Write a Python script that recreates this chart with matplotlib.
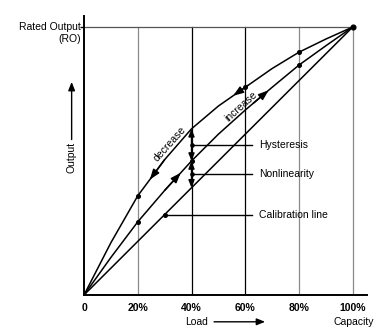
import numpy as np
import matplotlib
matplotlib.use("Agg")
import matplotlib.pyplot as plt

plt.rcParams['font.family'] = ['Liberation Sans', 'DejaVu Sans']

# Load in % of capacity, output in % of rated output (RO)
load = [0, 10, 20, 30, 40, 50, 60, 70, 80, 90, 100]
out_decrease = [0, 19.5, 37, 50.5, 62, 70.5, 77.5, 84.5, 90.6, 95.5, 100]
out_increase = [0, 14, 27.3, 39, 50, 60, 69, 77.5, 85.8, 93, 100]
calib_load = [0, 100]
calib_out = [0, 100]

tick_pos = [0, 20, 40, 60, 80, 100]
tick_labels = ["0", "20%", "40%", "60%", "80%", "100%"]
dark_grid = [40, 60]
light_grid = [20, 80, 100]

probe_load = 40      # where hysteresis / nonlinearity are measured
calib_mark = 30      # marker placed on the calibration line

fig = plt.figure(figsize=(3.80, 3.31), dpi=100)
ax = fig.add_axes([84 / 380, 36 / 331, 283 / 380, 279 / 331])
ax.set_xlim(0, 105.3)
ax.set_ylim(0, 104.1)

for s in ("top", "right"):
    ax.spines[s].set_visible(False)
for s in ("left", "bottom"):
    ax.spines[s].set_linewidth(1.4)
    ax.spines[s].set_color("black")

ax.set_xticks(tick_pos)
ax.set_xticklabels(tick_labels, fontsize=7.5, fontweight="bold")
ax.tick_params(axis="x", length=0, pad=6)
ax.set_yticks([100])
ax.set_yticklabels([""])
ax.tick_params(axis="y", length=3, width=1)

# grid
for g in light_grid:
    ax.plot([g, g], [0, 100], color="#8a8a8a", lw=0.9, zorder=1)
for g in dark_grid:
    ax.plot([g, g], [0, 100], color="black", lw=0.9, zorder=1)
ax.plot([0, 100], [100, 100], color="#555555", lw=0.9, zorder=1)

# curves
lw = 1.1
ax.plot(load, out_decrease, color="black", lw=lw, zorder=3, solid_joinstyle="round")
ax.plot(load, out_increase, color="black", lw=lw, zorder=3, solid_joinstyle="round")
ax.plot(calib_load, calib_out, color="black", lw=lw, zorder=3)

def val(xs, ys, x):
    return float(np.interp(x, xs, ys))

ms = 2.6
for x in (20, 60, 80):
    ax.plot(x, val(load, out_decrease, x), "o", color="black", ms=ms, zorder=4)
for x in (20, 40, 80):
    ax.plot(x, val(load, out_increase, x), "o", color="black", ms=ms, zorder=4)
ax.plot(100, 100, "o", color="black", ms=3.4, zorder=4)
cal_y = val(calib_load, calib_out, calib_mark)
ax.plot(calib_mark, cal_y, "o", color="black", ms=ms, zorder=4)

# direction arrows along the curves
def curve_arrow(xs, ys, x0, x1):
    ax.annotate("", xy=(x1, val(xs, ys, x1)), xytext=(x0, val(xs, ys, x0)),
                arrowprops=dict(arrowstyle="-|>,head_length=0.6,head_width=0.22",
                                color="black", lw=lw, shrinkA=0, shrinkB=0),
                zorder=5)

curve_arrow(load, out_decrease, 30, 24.5)
curve_arrow(load, out_decrease, 61, 55.5)
curve_arrow(load, out_increase, 30, 36)
curve_arrow(load, out_increase, 63, 68.7)

# hysteresis / nonlinearity measures at the probe load
y_dec = val(load, out_decrease, probe_load)
y_inc = val(load, out_increase, probe_load)
y_cal = val(calib_load, calib_out, probe_load)

def double_arrow(y0, y1):
    ax.annotate("", xy=(probe_load, y1), xytext=(probe_load, y0),
                arrowprops=dict(arrowstyle="<|-|>,head_length=0.45,head_width=0.18",
                                color="black", lw=1.0, shrinkA=0, shrinkB=0),
                zorder=5)

double_arrow(y_inc, y_dec)
double_arrow(y_cal, y_inc)

y_hys = (y_dec + y_inc) / 2
y_non = (y_inc + y_cal) / 2
label_x = 62.5
ax.plot([probe_load, label_x], [y_hys, y_hys], color="black", lw=1.0, zorder=3)
ax.plot([probe_load, label_x], [y_non, y_non], color="black", lw=1.0, zorder=3)
ax.plot([calib_mark, label_x], [cal_y, cal_y], color="black", lw=1.0, zorder=3)
ax.plot(probe_load, y_hys, "o", color="black", ms=2.3, zorder=6)
ax.plot(probe_load, y_non, "o", color="black", ms=2.3, zorder=6)

fs = 7.5
ax.text(65, y_hys, "Hysteresis", fontsize=fs, va="center", ha="left")
ax.text(65, y_non, "Nonlinearity", fontsize=fs, va="center", ha="left")
ax.text(65, cal_y, "Calibration line", fontsize=fs, va="center", ha="left")

ax.text(32, 56.5, "decrease", fontsize=fs, rotation=48, ha="center", va="center")
ax.text(58.5, 70.5, "increase", fontsize=fs, rotation=42, ha="center", va="center")

# axis captions
ax.text(-1.2, 100, "Rated Output", fontsize=fs, ha="right", va="center", clip_on=False)
ax.text(-1.2, 95.6, "(RO)", fontsize=fs, ha="right", va="center", clip_on=False)

ax.text(-4.6, 51.3, "Output", fontsize=fs, rotation=90, ha="center", va="center", clip_on=False)
ax.annotate("", xy=(-4.6, 79.5), xytext=(-4.6, 58.0), xycoords="data",
            arrowprops=dict(arrowstyle="-|>,head_length=0.5,head_width=0.2",
                            color="black", lw=1.0, shrinkA=0, shrinkB=0),
            annotation_clip=False)

ax.text(41.7, -10, "Load", fontsize=fs, ha="center", va="center", clip_on=False)
ax.annotate("", xy=(67.4, -10), xytext=(48.4, -10), xycoords="data",
            arrowprops=dict(arrowstyle="-|>,head_length=0.5,head_width=0.2",
                            color="black", lw=1.0, shrinkA=0, shrinkB=0),
            annotation_clip=False)
ax.text(100.2, -10, "Capacity", fontsize=fs, ha="center", va="center", clip_on=False)

fig.savefig("out.png", dpi=100, facecolor="white")
